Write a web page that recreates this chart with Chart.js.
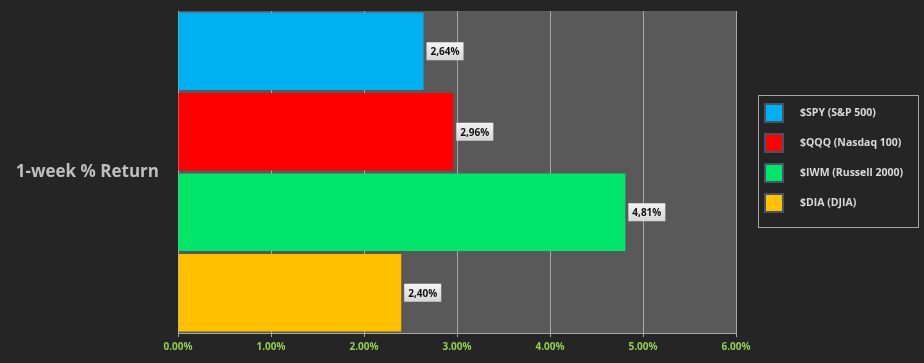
<!DOCTYPE html>
<html>
<head>
<meta charset="utf-8">
<script src="https://cdn.jsdelivr.net/npm/chart.js@4/dist/chart.umd.min.js"></script>
<style>
  html, body { margin: 0; padding: 0; background: #252525; }
  #wrap { width: 924px; height: 363px; position: relative; }
</style>
</head>
<body>
<div id="wrap"><canvas id="chart"></canvas></div>
<script>
'use strict';

const categories = ['1-week % Return'];
const seriesNames = ['$SPY (S&P 500)', '$QQQ (Nasdaq 100)', '$IWM (Russell 2000)', '$DIA (DJIA)'];
const seriesValues = [2.64, 2.96, 4.81, 2.40];
const seriesColors = ['#00b0f0', '#ff0000', '#00e66b', '#ffc000'];
const xMin = 0;
const xMax = 6;
const xStep = 1;

const FONT = '"Open Sans", "DejaVu Sans", sans-serif';

// grey plot background behind everything
const plotBackground = {
    id: 'plotBackground',
    beforeDraw(chart) {
        const { ctx, chartArea: a } = chart;
        ctx.save();
        ctx.fillStyle = '#595959';
        ctx.fillRect(a.left, a.top, a.right - a.left, a.bottom - a.top);
        ctx.restore();
    }
};

// white value boxes at the end of each bar
const valueBoxes = {
    id: 'valueBoxes',
    afterDatasetsDraw(chart) {
        const { ctx } = chart;
        ctx.save();
        ctx.font = 'bold 10px ' + FONT;
        ctx.textBaseline = 'middle';
        chart.data.datasets.forEach((ds, i) => {
            const bar = chart.getDatasetMeta(i).data[0];
            const text = ds.data[0].toFixed(2).replace('.', ',') + '%';
            const w = ctx.measureText(text).width + 8;
            const h = 18;
            const x = bar.x + 3;
            const y = bar.y - h / 2;
            const g = ctx.createLinearGradient(x, y, x, y + h);
            g.addColorStop(0, '#f4f4f4');
            g.addColorStop(1, '#d6d6d6');
            ctx.fillStyle = g;
            ctx.fillRect(x, y, w, h);
            ctx.fillStyle = '#111111';
            ctx.fillText(text, x + 4, bar.y + 1);
        });
        ctx.restore();
    }
};

// framed legend on the right
const boxLegend = {
    id: 'boxLegend',
    afterDraw(chart) {
        const { ctx } = chart;
        const left = 758, top = 95, width = 160, height = 132;
        ctx.save();
        ctx.strokeStyle = '#a6a6a6';
        ctx.lineWidth = 1;
        ctx.strokeRect(left + 0.5, top + 0.5, width, height);
        ctx.font = 'bold 10.5px ' + FONT;
        ctx.textBaseline = 'middle';
        chart.data.datasets.forEach((ds, i) => {
            const cy = top + 18 + i * 30;
            ctx.fillStyle = ds.backgroundColor;
            ctx.fillRect(765, cy - 9, 18, 18);
            ctx.strokeStyle = '#44546a';
            ctx.lineWidth = 2;
            ctx.strokeRect(765, cy - 9, 18, 18);
            ctx.fillStyle = '#d9d9d9';
            ctx.fillText(ds.label, 800, cy);
        });
        ctx.restore();
    }
};

const datasets = seriesNames.map((name, i) => ({
    label: name,
    data: [seriesValues[i]],
    backgroundColor: seriesColors[i],
    borderWidth: 0,
    barPercentage: 0.96,
    categoryPercentage: 1.0,
}));

new Chart(document.getElementById('chart'), {
    type: 'bar',
    data: { labels: categories, datasets },
    options: {
        indexAxis: 'y',
        responsive: true,
        maintainAspectRatio: false,
        animation: false,
        layout: { padding: { top: 11, right: 188, left: 0, bottom: 0 } },
        plugins: {
            legend: { display: false },
            tooltip: { enabled: false },
        },
        scales: {
            x: {
                min: xMin,
                max: xMax,
                ticks: {
                    stepSize: xStep,
                    color: '#92d050',
                    font: { family: FONT, size: 10, weight: 'bold' },
                    padding: 4,
                    callback: v => v.toFixed(2) + '%',
                },
                grid: { color: '#a6a6a6', lineWidth: 1, tickLength: 4, drawOnChartArea: true },
                border: { display: true, color: '#a6a6a6' },
                afterFit(scale) { scale.height = 30; },
            },
            y: {
                grid: { display: false, drawTicks: false },
                border: { display: false },
                ticks: {
                    color: '#bfbfbf',
                    font: { family: FONT, size: 17, weight: 'bold' },
                    padding: 19,
                },
                afterFit(scale) {
                    scale.width = 178;
                    scale.paddingTop = 0;
                    scale.paddingBottom = 0;
                },
            },
        },
    },
    plugins: [plotBackground, valueBoxes, boxLegend],
});
</script>
</body>
</html>
